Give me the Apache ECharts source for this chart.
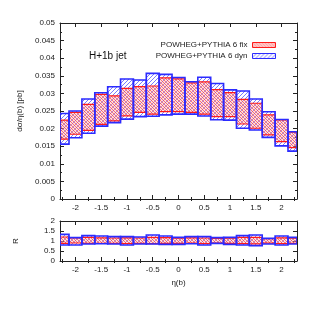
<!DOCTYPE html>
<html><head><meta charset="utf-8">
<script src="https://cdn.jsdelivr.net/npm/echarts@6/dist/echarts.min.js"></script>
<style>html,body{margin:0;padding:0;background:#fff}#c{width:314px;height:314px}</style>
</head><body><div id="c"></div>
<script>
// ---- data ----
const etaCenters = [-2.25,-2.0,-1.75,-1.5,-1.25,-1.0,-0.75,-0.5,-0.25,0,0.25,0.5,0.75,1.0,1.25,1.5,1.75,2.0,2.25];
const binWidth = 0.25;
const dynHigh = [0.0243,0.0250,0.0284,0.0302,0.0319,0.0341,0.0338,0.0357,0.0354,0.0345,0.0333,0.0346,0.0328,0.0310,0.0307,0.0284,0.0248,0.0226,0.0191];
const dynLow  = [0.0156,0.0174,0.0187,0.0207,0.0217,0.0227,0.0234,0.0235,0.0239,0.0241,0.0241,0.0236,0.0225,0.0224,0.0201,0.0196,0.0175,0.0151,0.0136];
const fixHigh = [0.0224,0.0246,0.0269,0.0297,0.0293,0.0314,0.0319,0.0321,0.0344,0.0341,0.0330,0.0333,0.0311,0.0302,0.0283,0.0272,0.0239,0.0225,0.0190];
const fixLow  = [0.0170,0.0184,0.0195,0.0212,0.0222,0.0236,0.0246,0.0241,0.0248,0.0248,0.0246,0.0241,0.0234,0.0234,0.0213,0.0201,0.0182,0.0163,0.0146];
const dynRHigh = [1.33,1.17,1.27,1.25,1.22,1.22,1.20,1.30,1.25,1.18,1.22,1.22,1.17,1.18,1.27,1.30,1.13,1.25,1.18];
const dynRLow  = [0.80,0.80,0.85,0.86,0.85,0.80,0.85,0.85,0.83,0.83,0.86,0.80,0.88,0.83,0.80,0.77,0.85,0.80,0.85];
const fixRHigh = [1.20,1.15,1.18,1.16,1.15,1.16,1.15,1.18,1.17,1.14,1.16,1.15,1.13,1.14,1.18,1.18,1.12,1.16,1.14];
const fixRLow  = [0.88,0.90,0.88,0.88,0.88,0.87,0.88,0.87,0.88,0.88,0.89,0.87,0.90,0.88,0.87,0.86,0.89,0.87,0.88];
const xMajorTicks = [-2,-1.5,-1,-0.5,0,0.5,1,1.5,2];
const xMinorTicks = [-2.25,-1.75,-1.25,-0.75,-0.25,0.25,0.75,1.25,1.75,2.25];
const nameFix = 'POWHEG+PYTHIA 6 fix';
const nameDyn = 'POWHEG+PYTHIA 6 dyn';

// ---- patterns ----
function hatch(n, slash, color, bg) {
  const c = document.createElement('canvas'); c.width = n; c.height = n;
  const g = c.getContext('2d');
  if (bg) { g.fillStyle = bg; g.fillRect(0, 0, n, n); }
  g.fillStyle = color;
  for (let i = 0; i < n; i++) {
    const j = slash ? (n - 1 - i) : i;
    g.fillRect(i, j, 1, 1);
  }
  return c;
}
const redPat = {image: hatch(3, false, 'rgba(255,50,50,0.62)', 'rgba(255,170,170,0.4)'), repeat: 'repeat'};
const bluePat = {image: hatch(4, true, 'rgba(50,50,255,0.65)', null), repeat: 'repeat'};
const RED = '#ff1a1a', BLUE = '#2b2bff';

function bins(lo, hi) {
  return etaCenters.map((c, i) => [c - binWidth / 2, c + binWidth / 2, lo[i], hi[i]]);
}
function render(fill, stroke, lw) {
  return function (params, api) {
    const a = api.coord([api.value(0), api.value(3)]);
    const b = api.coord([api.value(1), api.value(2)]);
    const cs = params.coordSys;
    const r = echarts.graphic.clipRectByRect(
      {x: a[0], y: a[1], width: b[0] - a[0], height: b[1] - a[1]},
      {x: cs.x, y: cs.y, width: cs.width, height: cs.height});
    if (!r) return;
    return {type: 'rect', shape: r, style: {fill: fill || 'none', stroke: stroke || 'none', lineWidth: lw || 0}};
  };
}
function bandSeries(name, xi, yi, data, fill, stroke, lw) {
  return {type: 'custom', name: name, xAxisIndex: xi, yAxisIndex: yi,
    renderItem: render(fill, stroke, lw), data: data, encode: {x: [0, 1], y: [2, 3]},
    itemStyle: {color: fill || stroke}, silent: true, animation: false, clip: true};
}

const FONT = 'Liberation Sans';
const AX = '#222';
function xAxes(grid, labels, name) {
  const base = {type: 'value', gridIndex: grid, min: -2.3, max: 2.3, splitLine: {show: false}};
  return [
    Object.assign({}, base, {position: 'bottom',
      axisLine: {show: true, onZero: false, lineStyle: {color: AX, width: 1}},
      axisTick: {show: true, inside: true, length: 4, customValues: xMajorTicks, lineStyle: {color: AX}},
      axisLabel: {show: labels, customValues: xMajorTicks, margin: 5, fontSize: 8, fontFamily: FONT, color: '#222'},
      name: name || '', nameLocation: 'middle', nameGap: 18, nameTextStyle: {fontSize: 8, fontFamily: FONT, color: '#222'}}),
    Object.assign({}, base, {position: 'bottom',
      axisLine: {show: false}, axisLabel: {show: false},
      axisTick: {show: true, inside: true, length: 2, customValues: xMinorTicks, lineStyle: {color: AX}}}),
    Object.assign({}, base, {position: 'top',
      axisLine: {show: true, onZero: false, lineStyle: {color: AX, width: 1}}, axisLabel: {show: false},
      axisTick: {show: true, inside: true, length: 4, customValues: xMajorTicks, lineStyle: {color: AX}}}),
    Object.assign({}, base, {position: 'top',
      axisLine: {show: false}, axisLabel: {show: false},
      axisTick: {show: true, inside: true, length: 2, customValues: xMinorTicks, lineStyle: {color: AX}}})
  ];
}
function yAxes(grid, min, max, interval, name, gap, minor) {
  const base = {type: 'value', gridIndex: grid, min: min, max: max, interval: interval, splitLine: {show: false},
    axisLine: {show: true, onZero: false, lineStyle: {color: AX, width: 1}},
    axisTick: {show: true, inside: true, length: 4, lineStyle: {color: AX}},
    minorTick: {show: minor, splitNumber: 2, length: 2, lineStyle: {color: AX}},
    minorSplitLine: {show: false}};
  return [
    Object.assign({}, base, {position: 'left',
      axisLabel: {show: true, margin: 5, fontSize: 8, fontFamily: FONT, color: '#222'},
      name: name, nameLocation: 'middle', nameGap: gap, nameRotate: 90,
      nameTextStyle: {fontSize: 8, fontFamily: FONT, color: '#222'}}),
    Object.assign({}, base, {position: 'right', axisLabel: {show: false}})
  ];
}

const xs = xAxes(0, true, '').concat(xAxes(1, true, 'η(b)'));
const ys = yAxes(0, 0, 0.05, 0.005, 'dσ/η(b) [pb]', 36, true).concat(yAxes(1, 0, 2, 0.5, 'R', 40, false));

const option = {
  animation: false,
  backgroundColor: '#fff',
  grid: [
    {left: 60, right: 17, top: 23, height: 176},
    {left: 60, right: 17, top: 221, height: 40}
  ],
  xAxis: xs,
  yAxis: ys,
  title: {text: 'H+1b jet', left: 84, top: 46, textStyle: {fontSize: 10, fontWeight: 'normal', fontFamily: FONT, color: '#111'}},
  legend: {
    orient: 'vertical', right: 33, top: 36, align: 'right', itemWidth: 23, itemHeight: 5, itemGap: 3,
    icon: 'rect', selectedMode: false,
    textStyle: {fontSize: 8, fontFamily: FONT, color: '#222'},
    data: [
      {name: nameFix, itemStyle: {color: redPat, borderColor: RED, borderWidth: 1}},
      {name: nameDyn, itemStyle: {color: bluePat, borderColor: BLUE, borderWidth: 1}}
    ]
  },
  series: [
    bandSeries(nameDyn, 0, 0, bins(dynLow, dynHigh), bluePat, null, 0),
    bandSeries(nameFix, 0, 0, bins(fixLow, fixHigh), redPat, RED, 1.2),
    bandSeries('dynEdge', 0, 0, bins(dynLow, dynHigh), null, BLUE, 1.6),
    bandSeries('dynR', 4, 2, bins(dynRLow, dynRHigh), bluePat, null, 0),
    bandSeries('fixR', 4, 2, bins(fixRLow, fixRHigh), redPat, RED, 1.2),
    bandSeries('dynREdge', 4, 2, bins(dynRLow, dynRHigh), null, BLUE, 1.6)
  ]
};
const chart = echarts.init(document.getElementById('c'), null, {renderer: 'canvas'});
chart.setOption(option);
</script>
</body></html>
